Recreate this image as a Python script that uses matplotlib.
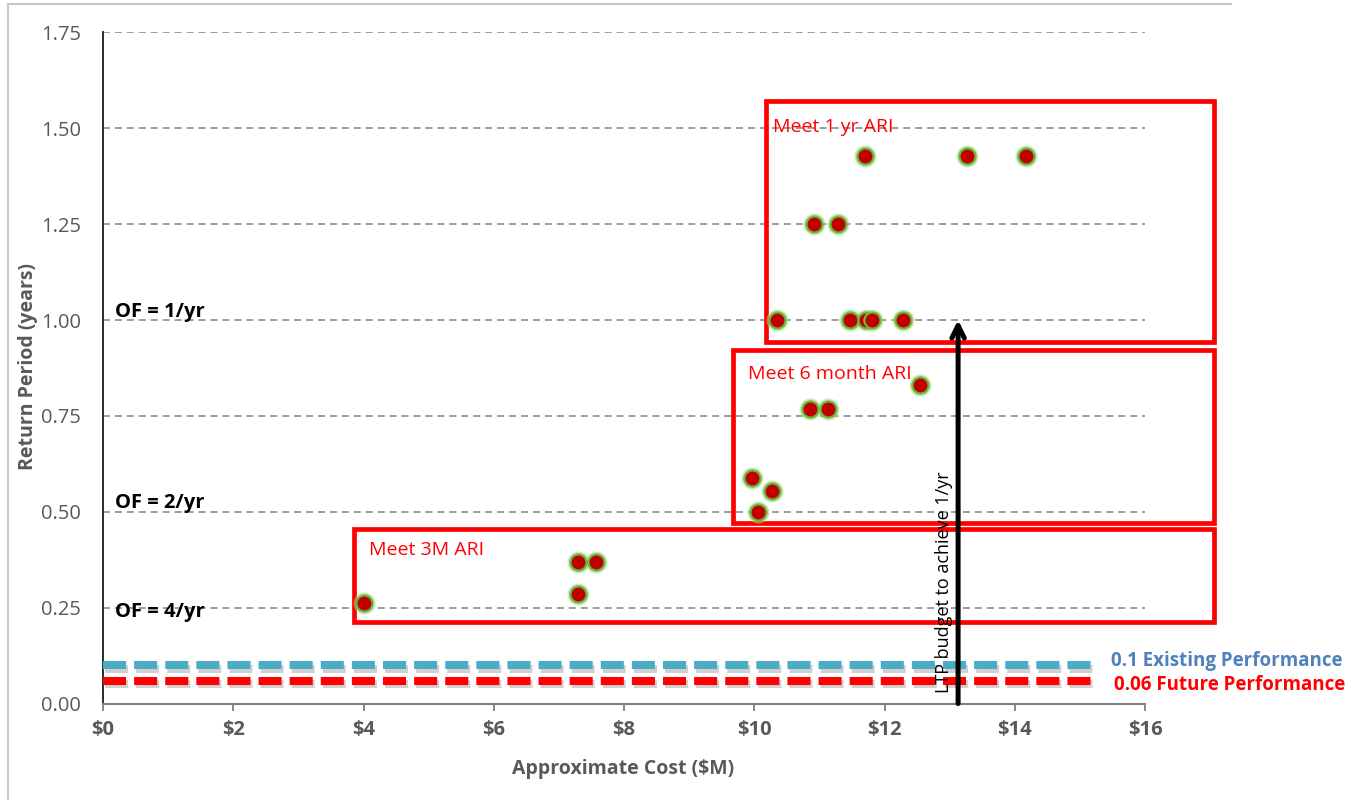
import matplotlib
matplotlib.use("Agg")
import matplotlib.pyplot as plt
import matplotlib.patheffects as pe
from matplotlib.patches import Rectangle
from matplotlib.lines import Line2D

plt.rcParams["font.family"] = ["Open Sans", "DejaVu Sans"]
plt.rcParams["lines.scale_dashes"] = False

# ---- data -------------------------------------------------------------
cost_musd = [4.00, 7.30, 7.30, 7.57,
             9.97, 10.27, 10.05, 10.86, 11.14, 12.55,
             10.35, 11.47, 11.72, 11.81, 12.29,
             10.92, 11.29,
             11.70, 13.26, 14.18]
return_period_yrs = [0.261, 0.286, 0.370, 0.370,
                     0.589, 0.554, 0.500, 0.768, 0.768, 0.830,
                     1.00, 1.00, 1.00, 1.00, 1.00,
                     1.25, 1.25,
                     1.427, 1.427, 1.427]

x_ticks = [0, 2, 4, 6, 8, 10, 12, 14, 16]
x_tick_labels = ["$0", "$2", "$4", "$6", "$8", "$10", "$12", "$14", "$16"]
y_ticks = [0.00, 0.25, 0.50, 0.75, 1.00, 1.25, 1.50, 1.75]

existing_performance = 0.1
future_performance = 0.06
ltp_budget = 13.13
target_return_period = 1.0

zone_names = ["Meet 3M ARI", "Meet 6 month ARI", "Meet 1 yr ARI"]
zone_cost_from = [3.85, 9.67, 10.18]
zone_rp_low = [0.213, 0.471, 0.943]
zone_rp_high = [0.456, 0.922, 1.571]
zone_cost_to = 17.06

of_labels = ["OF = 1/yr", "OF = 2/yr", "OF = 4/yr"]
of_levels = [1.0, 0.5, 0.25]

# ---- figure -----------------------------------------------------------
W, H = 1351, 800
fig = plt.figure(figsize=(W / 100, H / 100), dpi=100)
ax_l, ax_r, ax_b, ax_t = 103, 1145, 703.6, 32.3
ax = fig.add_axes([ax_l / W, 1 - ax_b / H, (ax_r - ax_l) / W, (ax_b - ax_t) / H])
ax.set_xlim(0, 16)
ax.set_ylim(0, 1.75)

grey_txt = "#595959"
fs_tick = 14.5
fs_note = 14

# horizontal dashed gridlines
ax.hlines(y_ticks[1:], 0, 16, colors="#8c8c8c", linestyles=(0, (5, 3.6)),
          lw=1.2, zorder=1)

for s in ("top", "right"):
    ax.spines[s].set_visible(False)
ax.spines["left"].set_color("#1a1a1a")
ax.spines["left"].set_linewidth(1.3)
ax.spines["bottom"].set_color("#7f7f7f")
ax.spines["bottom"].set_linewidth(1.5)

ax.set_xticks(x_ticks)
ax.set_xticklabels(x_tick_labels, fontweight="bold")
ax.set_yticks(y_ticks)
ax.set_yticklabels([f"{v:.2f}" for v in y_ticks])
ax.tick_params(axis="y", length=0, pad=16, labelsize=fs_tick, labelcolor=grey_txt)
ax.tick_params(axis="x", length=5, width=1.3, color="#7f7f7f", direction="out",
               pad=7, labelsize=fs_tick, labelcolor=grey_txt)

# performance zones
label_dx = [11, 11, 5]
label_dy = [-9, -11, -12]
for name, x0, y0, y1, dx, dy in zip(zone_names, zone_cost_from, zone_rp_low,
                                    zone_rp_high, label_dx, label_dy):
    ax.add_patch(Rectangle((x0, y0), zone_cost_to - x0, y1 - y0, fill=False,
                           ec="#ff0000", lw=3.4, clip_on=False, zorder=3,
                           joinstyle="miter"))
    ax.annotate(name, xy=(x0, y1), xytext=(dx, dy),
                textcoords="offset points", ha="left", va="top",
                color="#ff0000", fontsize=fs_note, zorder=3)

# options
ax.scatter(cost_musd, return_period_yrs, s=250, color="#9fdc7c", alpha=0.55,
           lw=0, zorder=4, clip_on=False)
ax.scatter(cost_musd, return_period_yrs, s=135, facecolor="#c00000",
           edgecolor="#6cb83e", lw=1.6, zorder=5, clip_on=False)

# overflow frequency labels
ax.text(0.18, of_levels[0] + 0.008, of_labels[0], fontweight="bold",
        fontsize=fs_tick, va="baseline", ha="left", zorder=6)
ax.text(0.18, of_levels[1] + 0.010, of_labels[1], fontweight="bold",
        fontsize=fs_tick, va="baseline", ha="left", zorder=6)
ax.text(0.18, of_levels[2] - 0.024, of_labels[2], fontweight="bold",
        fontsize=fs_tick, va="baseline", ha="left", zorder=6)

# existing / future performance lines
shadow = [pe.SimpleLineShadow(offset=(1.5, -2.5), shadow_color="black", alpha=0.18),
          pe.Normal()]
ax.plot([0, 15.24], [existing_performance] * 2, color="#4bacc6", lw=5.8,
        ls=(0, (16.6, 5.8)), dash_capstyle="butt", path_effects=shadow,
        clip_on=False, zorder=6)
ax.plot([0, 15.24], [future_performance] * 2, color="#ff0000", lw=5.8,
        ls=(0, (16.6, 5.8)), dash_capstyle="butt", path_effects=shadow,
        clip_on=False, zorder=6)
ax.annotate(f"{existing_performance:g} Existing Performance",
            xy=(15.24, existing_performance), xytext=(11, 3),
            textcoords="offset points", va="center", ha="left",
            color="#4f81bd", fontweight="bold", fontsize=13.5,
            annotation_clip=False)
ax.annotate(f"{future_performance:g} Future Performance",
            xy=(15.24, future_performance), xytext=(13, -3),
            textcoords="offset points", va="center", ha="left",
            color="#ff0000", fontweight="bold", fontsize=13.5,
            annotation_clip=False)

# budget arrow
ax.annotate("", xy=(ltp_budget, target_return_period), xytext=(ltp_budget, 0.0),
            arrowprops=dict(arrowstyle="->,head_length=0.9,head_width=0.45",
                            lw=3.6, color="black", shrinkA=0, shrinkB=0),
            zorder=7)
ax.text(ltp_budget - 0.22, 0.028, "LTP budget to achieve 1/yr", rotation=90,
        ha="center", va="bottom", fontsize=13, color="black", zorder=8)

# axis titles
fig.text(623 / W, 1 - 769 / H, "Approximate Cost ($M)", ha="center", va="center",
         fontsize=14, fontweight="bold", color=grey_txt)
fig.text(28 / W, 1 - 367 / H, "Return Period (years)", ha="center", va="center",
         rotation=90, fontsize=14, fontweight="bold", color=grey_txt)

# chart frame
fig.add_artist(Line2D([8 / W, 8 / W], [0, 1 - 3.5 / H], transform=fig.transFigure,
                      color="#c8c8c8", lw=1.5))
fig.add_artist(Line2D([8 / W, 1231 / W], [1 - 3.5 / H, 1 - 3.5 / H],
                      transform=fig.transFigure, color="#c8c8c8", lw=1.5))

fig.savefig("out.png", dpi=100)
